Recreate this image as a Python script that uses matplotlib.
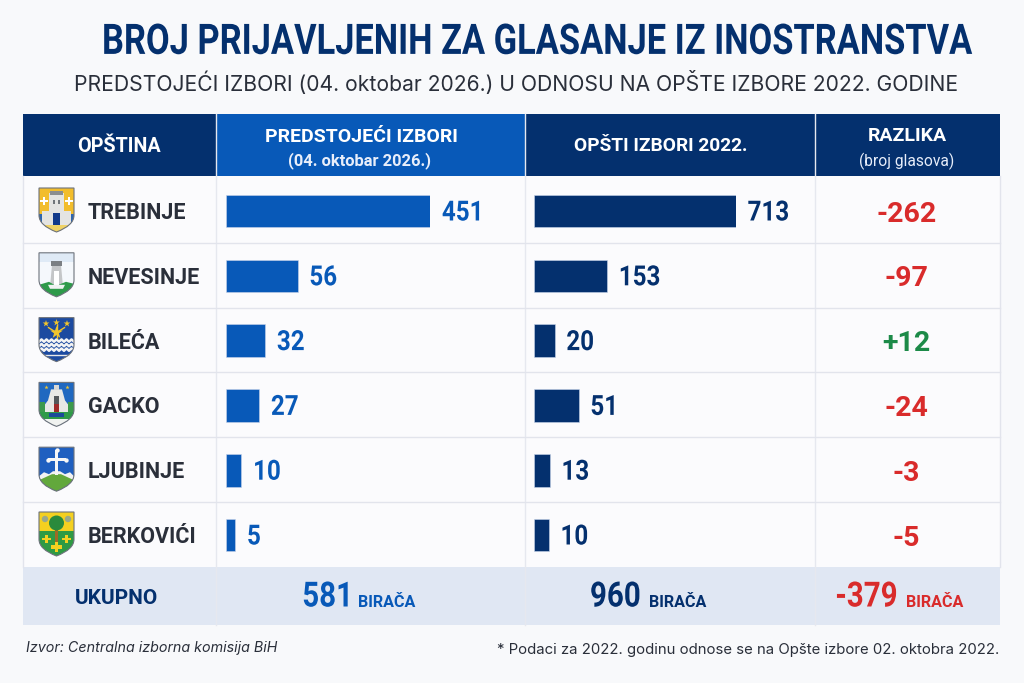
import numpy as np
import matplotlib
matplotlib.use("Agg")
import matplotlib.pyplot as plt
from matplotlib.patches import Polygon, Rectangle, Circle, PathPatch
from matplotlib.patheffects import AbstractPathEffect
from matplotlib.path import Path
from matplotlib.transforms import Affine2D

W, H = 1024, 683
BG = "#f8f9fb"
NAVY = "#04306e"
BLUE = "#0859b8"
RED = "#d92b2b"
GREEN = "#1c8a48"
INK = "#2a2f3a"
GRID = "#e2e4ec"
TOTAL_BG = "#e0e7f3"

opstine = ["TREBINJE", "NEVESINJE", "BILEĆA", "GACKO", "LJUBINJE", "BERKOVIĆI"]
izbori_2026 = [451, 56, 32, 27, 10, 5]
izbori_2022 = [713, 153, 20, 51, 13, 10]
razlika = ["-262", "-97", "+12", "-24", "-3", "-5"]
ukupno = ["581", "960", "-379"]

# the reference's bars are not to a linear scale, so each column has its own
# piecewise axis scale (value -> px length)
skala_2026 = ([0, 5, 10, 27, 32, 56, 451], [0, 9.6, 15.6, 33.6, 39.6, 72, 204.6])
skala_2022 = ([0, 10, 13, 20, 51, 153, 713], [0, 14.4, 15.4, 20.4, 44.4, 72.7, 201.7])

SANS = ["Roboto", "DejaVu Sans"]
SUB = ["Inter", "Roboto", "DejaVu Sans"]


class Squeeze(AbstractPathEffect):
    """condensed look: no condensed font is installed, so scale the glyph outlines"""

    def __init__(self, sx=1.0, sy=1.0, anchor="center", width=None):
        super().__init__()
        self.sx, self.sy, self.anchor, self.width = sx, sy, anchor, width

    def draw_path(self, renderer, gc, tpath, affine, rgbFace=None):
        box = tpath.transformed(affine).get_extents()
        sx = self.width / box.width if self.width else self.sx
        px = {"left": box.x0, "center": (box.x0 + box.x1) / 2, "right": box.x1}[self.anchor]
        py = (box.y0 + box.y1) / 2
        t = affine + Affine2D().translate(-px, -py).scale(sx, self.sy).translate(px, py)
        renderer.draw_path(gc, tpath, t, rgbFace)


def shield_path(x, y, w=35, h=44):
    verts = [(x, y), (x + w, y), (x + w, y + h * .62),
             (x + w, y + h * .85), (x + w / 2, y + h),
             (x, y + h * .85), (x, y + h * .62), (x, y)]
    codes = [Path.MOVETO, Path.LINETO, Path.LINETO, Path.CURVE3, Path.CURVE3,
             Path.CURVE3, Path.CURVE3, Path.CLOSEPOLY]
    return Path(verts, codes)


def crest(ax, i, x, y):
    clip = PathPatch(shield_path(x, y), transform=ax.transData)

    def box(px, py, w, h, color, z=3):
        r = Rectangle((x + px, y + py), w, h, fc=color, ec="none", zorder=z)
        ax.add_patch(r)
        r.set_clip_path(clip)

    def poly(pts, color, z=4):
        p = Polygon([(x + a, y + b) for a, b in pts], fc=color, ec="none", zorder=z)
        ax.add_patch(p)
        p.set_clip_path(clip)

    def stars(xs, ys, s, color, marker="*"):
        ax.scatter([x + a for a in xs], [y + b for b in ys], s=s, marker=marker,
                   color=color, zorder=6, lw=0)

    if i == 0:
        box(0, 0, 35, 44, "#f2bd2c")
        box(0, 26, 35, 12, "#2f66ae")
        poly([(0, 37), (35, 37), (35, 44), (0, 44)], "#f0d264", 4)
        box(10, 5, 15, 32, "#e4e4e2", 4)
        box(11, 3, 13, 4, "#8b8e90", 5)
        box(3, 23, 7, 14, "#e4e4e2", 4)
        box(25, 23, 7, 14, "#e4e4e2", 4)
        box(14, 25, 7, 12, "#123a8a", 5)
        box(14, 12, 2, 4, "#70757a", 5)
        box(19, 12, 2, 4, "#70757a", 5)
        stars([5, 30], [13, 13], 38, "white", "P")
    elif i == 1:
        box(0, 0, 35, 44, "#f5f8fc")
        box(0, 0, 35, 9, "#dfeaf6")
        poly([(13, 12), (22, 12), (24, 34), (11, 34)], "#c4c6c8", 4)
        box(12, 8, 11, 5, "#7b7f83", 5)
        box(15, 18, 5, 16, "#ffffff", 5)
        poly([(0, 32), (10, 29), (17, 33), (27, 29), (35, 31), (35, 44), (0, 44)], "#2e9a4a", 4)
        poly([(11, 36), (24, 36), (26, 32), (9, 32)], "#f0f2f2", 5)
    elif i == 2:
        box(0, 0, 35, 44, "#1c4aa0")
        for k, wy in enumerate([23, 27.5, 32]):
            wx = np.arange(0, 36, 2.5)
            wave = wy + 1.2 * (-1.0) ** np.arange(len(wx))
            ax.plot(x + wx, y + wave, color="#f4f4f4", lw=1.8, zorder=5,
                    clip_path=clip, solid_joinstyle="round")
        box(0, 34, 35, 10, "#1c4aa0", 4)
        ax.plot(x + np.array([5, 30]), y + np.array([37, 37]), color="#e8e8e8", lw=1, zorder=5)
        stars([7, 17.5, 28, 17.5], [6, 5, 6, 15], [26, 26, 26, 90], "#f2c52c")
        for dx in (-8, 8):
            ax.plot([x + 17.5, x + 17.5 + dx], [y + 15, y + 10], color="#f2c52c", lw=1, zorder=5)
        ax.plot([x + 17.5, x + 17.5], [y + 7, y + 20], color="#f2c52c", lw=1, zorder=5)
    elif i == 3:
        box(0, 0, 35, 44, "#2068c0")
        poly([(12, 7), (23, 7), (26, 18), (29, 22), (29, 30), (6, 30), (6, 22), (9, 18)], "#e8e8e6", 4)
        box(15, 3, 5, 5, "#d8d8d6", 4)
        box(0, 20, 6, 12, "#3c9a4c", 4)
        box(29, 20, 6, 12, "#3c9a4c", 4)
        box(15, 22, 5, 8, "#a02a2a", 5)
        box(15, 14, 5, 8, "#54585c", 5)
        box(0, 30, 35, 7, "#2f9a48", 4)
        box(0, 37, 35, 7, "#f0f2f0", 4)
        box(10, 31, 15, 4, "#1c4a9a", 5)
        stars([7, 28], [5, 5], 10, "#f2c52c")
    elif i == 4:
        box(0, 0, 35, 44, "#1f5fc0")
        poly([(0, 29), (5, 25), (10, 27), (14, 24), (21, 24), (26, 27), (31, 25), (35, 29), (35, 33), (0, 33)], "#f2f2f2", 4)
        poly([(0, 33), (13, 27), (22, 27), (35, 33), (35, 44), (0, 44)], "#62a83c", 5)
        box(16, 3, 3, 25, "#f6f6f6", 6)
        box(8.5, 11, 18, 3, "#f6f6f6", 6)
        stars([17.5, 8.5, 26.5], [3, 12.5, 12.5], 10, "#f6f6f6", "o")
    else:
        box(0, 0, 35, 19, "#f4d020")
        box(0, 19, 35, 25, "#2f9a44")
        box(16, 14, 3, 24, "#a06a24", 5)
        ax.add_patch(Circle((x + 17.5, y + 11), 7.5, fc="#2a8a3c", ec="none", zorder=5))
        ax.add_patch(Circle((x + 6, y + 7), 3.2, fc="#9aa88a", ec="none", zorder=5))
        ax.add_patch(Circle((x + 29, y + 7), 3.2, fc="#9aa88a", ec="none", zorder=5))
        stars([7.5, 27.5, 17.5], [27, 27, 35], [40, 40, 55], "#f4d020", "P")
    ax.add_patch(PathPatch(shield_path(x, y), fc="none", ec="#6d737c", lw=0.8, zorder=8))


def bar_panel(fig, px_left, values, scale, color):
    knots, lengths = scale
    top, bottom = 178.6, 567.4
    ax = fig.add_axes([px_left / W, 1 - bottom / H, lengths[-1] / W, (bottom - top) / H],
                      facecolor="none")
    ax.set_xscale("function", functions=(
        lambda v: np.interp(v, knots, lengths),
        lambda p: np.interp(p, lengths, knots)))
    ax.set_xlim(0, knots[-1])
    y = np.arange(len(values))
    ax.barh(y, values, height=32.6 / 64.8, color=color, edgecolor="#c8d4ea", lw=0.4)
    ax.set_ylim(len(values) - 0.5, -0.5)
    ax.axis("off")
    for yi, v in zip(y, values):
        ax.annotate(str(v), (v, yi), xytext=(11.5, -2), textcoords="offset pixels",
                    va="center", ha="left", color=color, fontsize=20,
                    fontweight="bold", family=SANS,
                    path_effects=[Squeeze(0.87, anchor="left")])
    return ax


fig = plt.figure(figsize=(W / 100, H / 100), dpi=100, facecolor=BG)
ax = fig.add_axes([0, 0, 1, 1])
ax.set_xlim(0, W)
ax.set_ylim(H, 0)
ax.axis("off")

columns = [23, 216, 525, 815, 1000]
head_top, head_bot = 114, 176
rows_top, rows_bot = 176, 567
tot_bot = 625

# header cells
for (a, b), c in zip(zip(columns, columns[1:]), [NAVY, BLUE, NAVY, NAVY]):
    ax.add_patch(Rectangle((a, head_top), b - a, head_bot - head_top, fc=c, ec="none"))
ax.add_patch(Rectangle((23, rows_top), 977, rows_bot - rows_top, fc="#fbfbfd", ec="none"))
ax.add_patch(Rectangle((23, rows_bot), 977, tot_bot - rows_bot, fc=TOTAL_BG, ec="none"))
for x in columns[1:-1]:
    ax.plot([x, x], [head_top, tot_bot], color="#e6e8ef", lw=1, zorder=2)
for x in (columns[0], columns[-1]):
    ax.plot([x, x], [rows_top, rows_bot], color=GRID, lw=1, zorder=2)
for i in range(1, 6):
    ax.plot([23, 1000], [178 + i * 64.8] * 2, color=GRID, lw=1, zorder=2)

ax.text(536.5, 42, "BROJ PRIJAVLJENIH ZA GLASANJE IZ INOSTRANSTVA", ha="center", va="center",
        color=NAVY, fontsize=25.5, fontweight="bold", family=SANS,
        path_effects=[Squeeze(sy=1.19, width=868)])
ax.text(516, 83.5, "PREDSTOJEĆI IZBORI (04. oktobar 2026.) U ODNOSU NA OPŠTE IZBORE 2022. GODINE",
        ha="center", va="center", color=INK, fontsize=15.2, family=SUB)

ax.text(118.5, 146, "OPŠTINA", ha="center", va="center", color="white", fontsize=14.2, fontweight="bold", family=SANS)
ax.text(361, 137, "PREDSTOJEĆI IZBORI", ha="center", va="center", color="white", fontsize=14, fontweight="bold", family=SANS)
ax.text(360, 161, "(04. oktobar 2026.)", ha="center", va="center", color="#e8eefa", fontsize=11.9, fontweight="bold", family=SANS)
ax.text(661, 146, "OPŠTI IZBORI 2022.", ha="center", va="center", color="white", fontsize=13.8, fontweight="bold", family=SANS)
ax.text(907, 136, "RAZLIKA", ha="center", va="center", color="white", fontsize=14, fontweight="bold", family=SANS)
ax.text(907, 161, "(broj glasova)", ha="center", va="center", color="#e8eefa", fontsize=11.2, family=SANS)

for i, (name, diff) in enumerate(zip(opstine, razlika)):
    yc = 211 + i * 64.8
    crest(ax, i, 39, yc - 23)
    ax.text(88, yc + 2, name, ha="left", va="center", color=INK, fontsize=15.5, fontweight="bold", family=SANS)
    ax.text(906.5, yc + 3, diff, ha="center", va="center", color=GREEN if diff[0] == "+" else RED,
            fontsize=20.5, fontweight="bold", family=SANS)

bar_panel(fig, 225.7, izbori_2026, skala_2026, BLUE)
bar_panel(fig, 534.3, izbori_2022, skala_2022, NAVY)

ax.text(116, 598, "UKUPNO", ha="center", va="center", color=NAVY, fontsize=15, fontweight="bold", family=SANS)
for x, x2, val, c in zip([354, 641, 898], [358, 649, 906], ukupno, [BLUE, NAVY, RED]):
    ax.text(x, 597, val, ha="right", va="center", color=c, fontsize=25, fontweight="bold", family=SANS,
            path_effects=[Squeeze(0.85, anchor="right")])
    ax.text(x2, 602.5, "BIRAČA", ha="left", va="center", color=c, fontsize=11.6, fontweight="bold", family=SANS)

ax.text(26, 648, "Izvor: Centralna izborna komisija BiH", ha="left", va="center", color=INK,
        fontsize=10.3, style="italic", family=SUB)
ax.text(999, 650, "* Podaci za 2022. godinu odnose se na Opšte izbore 02. oktobra 2022.", ha="right",
        va="center", color=INK, fontsize=10.76, family=SUB)

fig.savefig("out.png", dpi=100, facecolor=BG)
